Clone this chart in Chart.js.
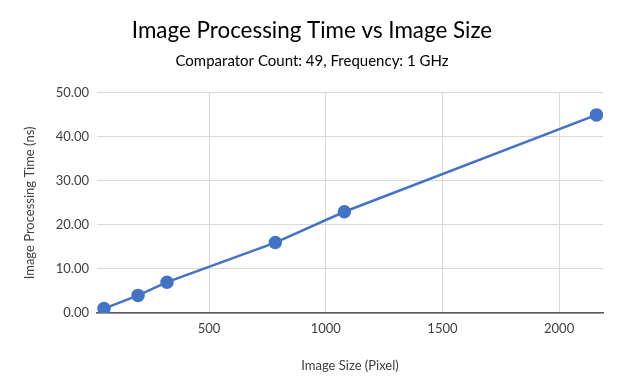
<!DOCTYPE html>
<html>
<head>
<meta charset="utf-8">
<script src="https://cdn.jsdelivr.net/npm/chart.js@4"></script>
<style>
  html, body { margin: 0; padding: 0; background: #fff; }
  #wrap { width: 624px; height: 392px; }
</style>
</head>
<body>
<div id="wrap"><canvas id="grafico" width="624" height="392"></canvas></div>
<script>
const tamanhos = [50, 196, 320, 784, 1080, 2160];
const tempos = [1, 4, 7, 16, 23, 45];
const ticksX = [500, 1000, 1500, 2000];

const pontos = tamanhos.map((x, i) => ({ x: x, y: tempos[i] }));
const fonte = "Lato, 'Open Sans', sans-serif";

new Chart(document.getElementById('grafico'), {
  type: 'scatter',
  data: {
    datasets: [{
      label: 'Tempo',
      data: pontos,
      showLine: true,
      borderColor: '#4472C4',
      backgroundColor: '#4472C4',
      borderWidth: 2.5,
      pointRadius: 5.5,
      pointHoverRadius: 5.5
    }]
  },
  options: {
    responsive: false,
    animation: false,
    layout: { padding: { left: 10, right: 10, top: 0, bottom: 0 } },
    plugins: {
      legend: { display: false },
      tooltip: { enabled: false },
      title: {
        display: true,
        text: 'Image Processing Time vs Image Size',
        color: '#000',
        font: { family: fonte, size: 22.4, weight: 'normal' },
        padding: { top: 17, bottom: 8 }
      },
      subtitle: {
        display: true,
        text: 'Comparator Count: 49, Frequency: 1 GHz',
        color: '#000',
        font: { family: fonte, size: 15, weight: 'normal' },
        padding: { top: 0, bottom: 23 }
      }
    },
    scales: {
      x: {
        type: 'linear',
        min: 20,
        max: 2188,
        afterBuildTicks: (scale) => { scale.ticks = ticksX.map(v => ({ value: v })); },
        afterFit: (scale) => { scale.height = 79; },
        grid: { color: '#d9d9d9', drawTicks: false },
        border: { color: '#595959', width: 1.5 },
        ticks: {
          color: '#404040',
          font: { family: fonte, size: 13 },
          padding: 8,
          maxRotation: 0,
          callback: (v) => String(v)
        },
        title: {
          display: true,
          text: 'Image Size (Pixel)',
          color: '#404040',
          font: { family: fonte, size: 13 },
          padding: { top: 0, bottom: 18 }
        }
      },
      y: {
        min: 0,
        max: 50,
        afterFit: (scale) => { scale.width = 87; },
        grid: { color: '#d9d9d9', drawTicks: false },
        border: { display: false },
        ticks: {
          stepSize: 10,
          color: '#404040',
          font: { family: fonte, size: 13 },
          padding: 8,
          callback: (v) => v.toFixed(2)
        },
        title: {
          display: true,
          text: 'Image Processing Time (ns)',
          color: '#404040',
          font: { family: fonte, size: 13 },
          padding: { top: 12, bottom: 0 }
        }
      },
      espaco: {
        type: 'linear',
        position: 'right',
        min: 0,
        max: 50,
        afterFit: (scale) => { scale.width = 11; },
        grid: { display: false, drawTicks: false },
        border: { display: false },
        ticks: { display: false }
      }
    }
  }
});
</script>
</body>
</html>
